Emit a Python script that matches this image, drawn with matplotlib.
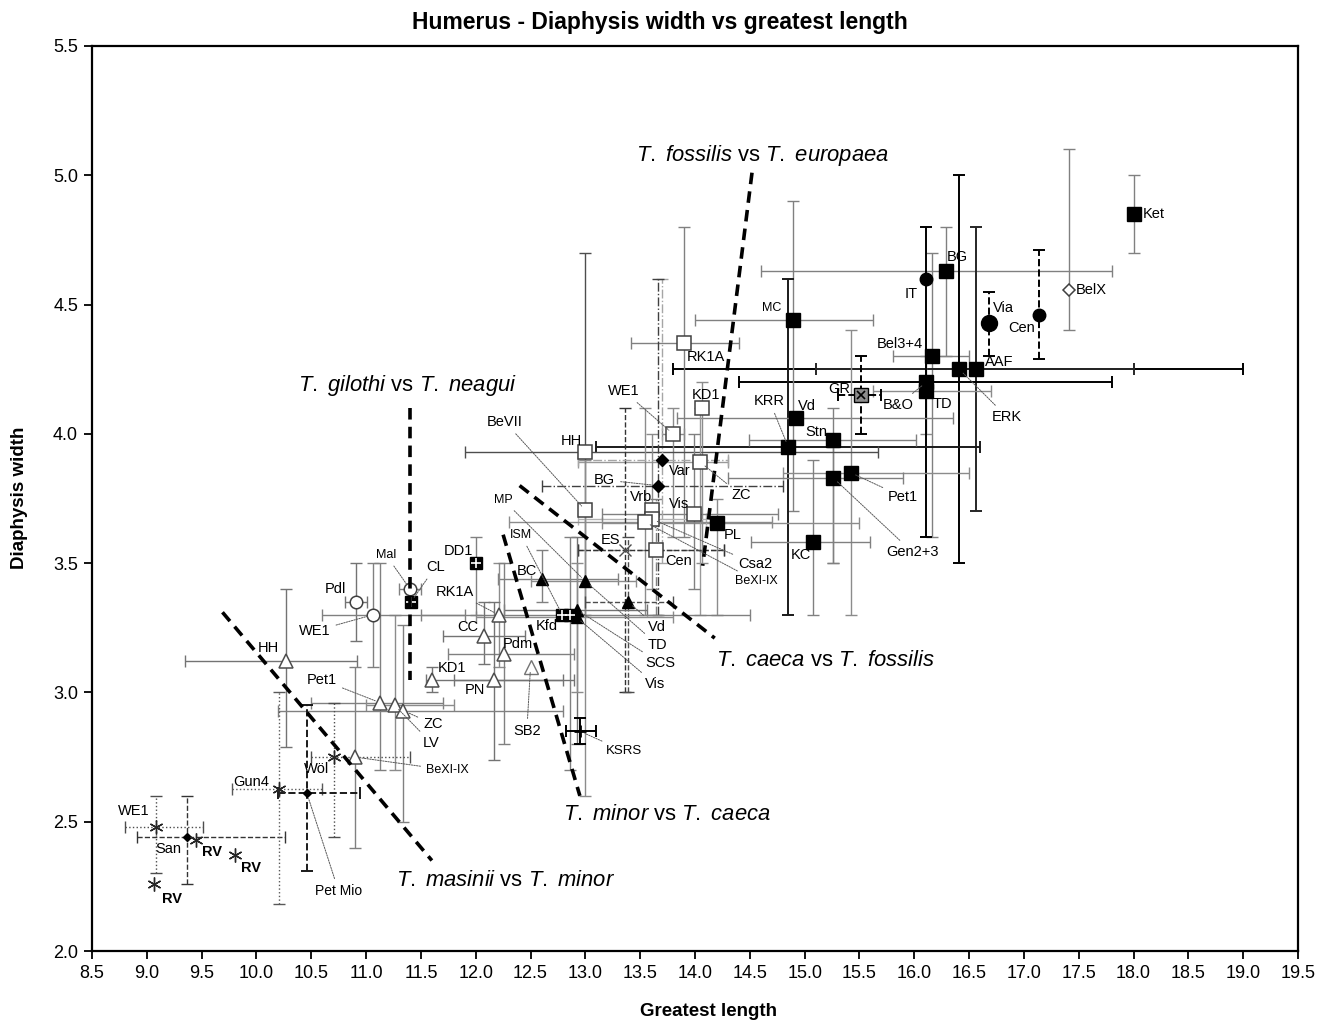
import matplotlib
matplotlib.use("Agg")
import matplotlib.pyplot as plt
from matplotlib.ticker import MultipleLocator, FormatStrFormatter

plt.rcParams['font.family'] = ['Liberation Sans', 'DejaVu Sans']
plt.rcParams['mathtext.fontset'] = 'custom'
plt.rcParams['mathtext.it'] = 'Liberation Sans:italic'
plt.rcParams['mathtext.rm'] = 'Liberation Sans'

W, H = 1319, 1021

# ---------------- data ----------------
names = ["Ket", "BG", "Bel3+4", "ERK", "AAF", "B&O", "TD", "IT", "Via", "Cen", "BelX",
         "MC", "KRR", "Vd", "Stn", "Pet1", "Gen2+3", "KC", "PL", "GR",
         "RK1A", "KD1", "WE1", "HH", "ZC", "BeVII", "Vrb", "Csa2", "BeXI-IX", "Vis", "Cen",
         "ES", "Var", "BG",
         "BC", "TD", "Vd", "SCS", "Vis", "Kfd", "ISM", "KSRS",
         "RK1A", "CC", "Pdm", "SB2", "PN", "KD1", "HH", "Pet1", "LV", "ZC", "BeXI-IX", "Wöl",
         "Pdl", "WE1", "Mal", "CL", "DD1",
         "WE1", "San", "RV", "RV", "RV", "Gun4", "Pet Mio"]
xs = [18.00, 16.29, 16.16, 16.41, 16.56, 16.11, 16.11, 16.11, 16.68, 17.14, 17.41,
      14.89, 14.85, 14.92, 15.26, 15.42, 15.26, 15.08, 14.20, 15.51,
      13.90, 14.06, 13.80, 13.00, 14.05, 13.00, 13.61, 13.61, 13.54, 13.99, 13.64,
      13.36, 13.70, 13.66,
      12.60, 13.00, 13.39, 12.92, 12.92, 12.86, 12.79, 12.95,
      12.21, 12.08, 12.26, 12.50, 12.17, 11.60, 10.27, 11.13, 11.26, 11.34, 10.90, 10.71,
      10.91, 11.06, 11.40, 11.41, 12.00,
      9.08, 9.37, 9.45, 9.80, 9.07, 10.21, 10.46]
ys = [4.85, 4.63, 4.30, 4.25, 4.25, 4.20, 4.165, 4.60, 4.43, 4.46, 4.555,
      4.44, 3.95, 4.06, 3.975, 3.85, 3.83, 3.58, 3.655, 4.15,
      4.35, 4.10, 4.00, 3.93, 3.89, 3.705, 3.705, 3.67, 3.66, 3.69, 3.55,
      3.55, 3.90, 3.80,
      3.44, 3.43, 3.35, 3.32, 3.29, 3.30, 3.30, 2.85,
      3.30, 3.22, 3.15, 3.10, 3.05, 3.05, 3.12, 2.96, 2.95, 2.93, 2.75, 2.75,
      3.35, 3.30, 3.40, 3.35, 3.50,
      2.48, 2.44, 2.43, 2.37, 2.26, 2.625, 2.61]
N = None
x_lo = [N, 14.60, 15.81, 13.80, 15.10, 14.40, 15.62, N, N, N, N,
        14.00, 13.10, 13.84, 14.49, 14.80, 14.30, 14.51, 13.15, 15.30,
        13.42, N, 13.70, 11.90, 12.93, N, N, 12.93, 12.30, 13.15, 12.93,
        12.93, 12.93, 12.60,
        12.20, 12.50, 13.00, 12.26, 12.00, 11.50, N, 12.82,
        N, 11.70, 11.75, N, 11.80, 11.55, 9.35, 10.50, 11.00, 10.20, N, 10.50,
        10.81, 10.60, 11.30, N, N,
        8.80, 8.91, N, N, N, 9.78, 10.20]
x_hi = [N, 17.80, 16.50, 19.00, 18.00, 17.80, 16.70, N, N, N, N,
        15.62, 16.60, 16.35, 16.02, 16.50, 15.90, 15.60, 15.50, 15.70,
        14.40, N, 13.90, 15.67, 14.30, N, N, 14.10, 14.70, 14.76, 14.26,
        14.26, 14.30, 14.80,
        13.30, 13.46, 13.80, 13.56, 13.80, 14.50, N, 13.10,
        N, 12.45, 12.90, N, 12.80, 12.90, 10.92, 11.70, 11.80, 12.80, N, 11.40,
        11.01, 11.90, 11.50, N, N,
        9.51, 10.26, N, N, N, 10.60, 10.94]
y_lo = [4.70, 4.30, 3.60, 3.50, 3.70, N, 4.00, 3.60, 4.30, 4.29, 4.40,
        3.70, 3.30, N, 3.50, 3.30, 3.50, 3.30, 3.30, 4.00,
        3.60, 3.50, 3.60, 3.30, 3.30, N, 3.40, N, 3.30, 3.40, 3.30,
        3.00, 3.50, 3.30,
        3.35, 2.60, 3.00, 2.80, 3.00, 2.70, N, 2.80,
        3.10, 3.11, 2.80, N, 2.74, 3.00, 2.79, 2.70, 2.70, 2.50, 2.40, 2.44,
        3.20, 3.10, N, N, 3.30,
        2.30, 2.26, N, N, N, 2.18, 2.31]
y_hi = [5.00, 4.80, 4.70, 5.00, 4.80, N, 4.30, 4.80, 4.55, 4.71, 5.10,
        4.90, 4.60, N, 4.10, 4.40, 3.95, 3.90, 3.75, 4.30,
        4.80, 4.20, 4.10, 4.70, 4.10, N, 4.00, N, 4.10, 4.00, 3.75,
        4.10, 4.60, 4.60,
        3.55, 3.90, 3.60, 3.60, 3.50, 3.60, N, 2.90,
        3.50, 3.35, 3.50, N, 3.35, 3.10, 3.40, 3.50, 3.30, 3.26, 3.10, 2.96,
        3.50, 3.50, N, N, 3.60,
        2.60, 2.60, N, N, N, 3.00, 2.95]

# marker kind of each point
kinds = ["sqf", "sqf", "sqf", "sqf", "sqf", "sqf", "sqf", "cif", "cib", "cif", "dio",
         "sqf", "sqf", "sqf", "sqf", "sqf", "sqf", "sqf", "sqf", "sqx",
         "sqo", "sqo", "sqo", "sqo", "sqo", "sqo", "sqo", "sqo", "sqo", "sqo", "sqo",
         "xx", "dif", "dif",
         "trf", "trf", "trf", "trf", "trf", "sqc", "sqc", "plus",
         "tro", "tro", "tro", "trl", "tro", "tro", "tro", "tro", "tro", "tro", "tro", "ast",
         "cio", "cio", "cio", "sqc", "sqc",
         "ast", "dis", "ast", "ast", "ast", "ast", "dis"]
# error bar colour / line style of each point
bar_col = ["0.5", "0.5", "0.5", "0.0", "0.15", "0.0", "0.55", "0.0", "0.0", "0.0", "0.5",
           "0.5", "0.1", "0.5", "0.5", "0.55", "0.5", "0.5", "0.55", "0.0",
           "0.5", "0.55", "0.55", "0.3", "0.6", "0.5", "0.55", "0.7", "0.55", "0.5", "0.5",
           "0.2", "0.65", "0.25",
           "0.5", "0.55", "0.3", "0.45", "0.55", "0.5", "0.5", "0.0",
           "0.55", "0.45", "0.5", "0.5", "0.45", "0.45", "0.45", "0.5", "0.55", "0.5", "0.5", "0.3",
           "0.45", "0.5", "0.5", "0.5", "0.5",
           "0.3", "0.2", "0.2", "0.2", "0.2", "0.35", "0.1"]
bar_ls = ["-", "-", "-", "-", "-", "-", "-", "-", "--", "--", "-",
          "-", "-", "-", "-", "-", "-", "-", "-", "--",
          "-", "-", "-", "-", "-", "-", "-", "-", "-", "-", "-.",
          "--", "-.", "-.",
          "-", "-", "--", "-", "-", "-", "-", "-",
          "-", "-", "-", "-", "-", "-", "-", "-", "-", "-", "-", ":",
          "-", "-", "-", "-", "-",
          ":", "--", "-", "-", "-", ":", "--"]

# boundary lines between species
bound_x = [[11.40, 11.40], [9.69, 11.60], [12.25, 12.95], [12.40, 14.18], [14.52, 14.07]]
bound_y = [[4.10, 3.05], [3.31, 2.35], [3.61, 2.60], [3.80, 3.21], [5.01, 3.49]]
bound_text = [r"$\mathit{T.\ gilothi}$ vs $\mathit{T.\ neagui}$",
              r"$\mathit{T.\ masinii}$ vs $\mathit{T.\ minor}$",
              r"$\mathit{T.\ minor}$ vs $\mathit{T.\ caeca}$",
              r"$\mathit{T.\ caeca}$ vs $\mathit{T.\ fossilis}$",
              r"$\mathit{T.\ fossilis}$ vs $\mathit{T.\ europaea}$"]
bound_text_pos = [(298, 385), (396, 880), (563, 814), (716, 660), (636, 155)]

# point labels: (point index, text pixel pos, leader?, size, bold)
labels = [
    (0, (1143, 214), False, 10.5, False),
    (1, (947, 257), False, 10.5, False),
    (2, (877, 344), False, 10.5, False),
    (3, (992, 417), True, 10.5, False),
    (4, (985, 362), False, 10.5, False),
    (5, (883, 405), True, 10.5, False),
    (6, (933, 404), False, 10.5, False),
    (7, (905, 294), False, 10.5, False),
    (8, (993, 308), False, 10.5, False),
    (9, (1008, 328), False, 10.5, False),
    (10, (1076, 290), False, 10.5, False),
    (11, (762, 308), False, 9, False),
    (12, (754, 401), True, 10.5, False),
    (13, (798, 406), False, 10.5, False),
    (14, (805, 432), False, 10.5, False),
    (15, (888, 497), True, 10.5, False),
    (16, (886, 552), True, 10.5, False),
    (17, (791, 555), False, 10.5, False),
    (18, (724, 535), False, 10.5, False),
    (19, (828, 389), False, 10.5, False),
    (20, (687, 357), False, 10.5, False),
    (21, (692, 395), False, 10.5, False),
    (22, (608, 391), True, 10.5, False),
    (23, (561, 441), False, 10.5, False),
    (24, (731, 495), True, 10.5, False),
    (25, (487, 422), True, 10.5, False),
    (26, (630, 497), False, 10.5, False),
    (27, (738, 564), True, 10.5, False),
    (28, (735, 581), True, 9, False),
    (29, (669, 504), False, 10.5, False),
    (30, (665, 561), False, 10.5, False),
    (31, (601, 540), False, 10.5, False),
    (32, (669, 471), False, 10.5, False),
    (33, (594, 480), True, 10.5, False),
    (34, (517, 571), False, 10.5, False),
    (35, (648, 645), True, 10.5, False),
    (36, (648, 627), True, 10.5, False),
    (37, (645, 663), True, 10.5, False),
    (38, (645, 684), True, 10.5, False),
    (39, (536, 626), False, 10.5, False),
    (40, (510, 535), True, 9, False),
    (41, (606, 751), True, 9.5, False),
    (42, (436, 592), True, 10.5, False),
    (43, (457, 627), False, 10.5, False),
    (44, (503, 644), False, 10.5, False),
    (45, (513, 731), True, 10.5, False),
    (46, (465, 690), False, 10.5, False),
    (47, (438, 668), False, 10.5, False),
    (48, (258, 648), False, 10.5, False),
    (49, (307, 680), True, 10.5, False),
    (50, (423, 743), True, 10.5, False),
    (51, (423, 724), True, 10.5, False),
    (52, (426, 770), True, 9, False),
    (53, (304, 769), False, 10.5, False),
    (54, (325, 589), False, 10.5, False),
    (55, (299, 631), True, 10.5, False),
    (56, (376, 555), True, 9, False),
    (57, (426, 567), True, 10.5, False),
    (58, (444, 551), False, 10.5, False),
    (59, (118, 811), False, 10.5, False),
    (60, (155, 849), False, 10.5, False),
    (61, (202, 852), False, 10.5, True),
    (62, (241, 868), False, 10.5, True),
    (63, (162, 899), False, 10.5, True),
    (64, (233, 782), False, 10.5, False),
    (65, (315, 891), True, 10, False),
]
# extra label with only a leader (MP)
extra_label = ("MP", (494, 500), 35, 9)

# ---------------- figure ----------------
fig = plt.figure(figsize=(W / 100, H / 100), dpi=100)
ax = fig.add_axes([92 / W, 1 - 951 / H, (1298 - 92) / W, (951 - 46) / H])
ax.set_xlim(8.5, 19.5)
ax.set_ylim(2.0, 5.5)

# error bars
for i in range(len(xs)):
    xe = None if x_lo[i] is None else [[xs[i] - x_lo[i]], [x_hi[i] - xs[i]]]
    ye = None if y_lo[i] is None else [[ys[i] - y_lo[i]], [y_hi[i] - ys[i]]]
    if xe is None and ye is None:
        continue
    lw = 1.4 if float(bar_col[i]) < 0.2 else 1.0
    eb = ax.errorbar(xs[i], ys[i], xerr=xe, yerr=ye, fmt='none', ecolor=bar_col[i],
                     elinewidth=lw, capsize=4, capthick=lw, zorder=2)
    for lc in eb[2]:
        lc.set_linestyle(bar_ls[i])

# markers
for i in range(len(xs)):
    k = kinds[i]
    x, y = xs[i], ys[i]
    z = 5
    if k == "sqf":
        ax.plot(x, y, 's', ms=9.5, mfc='black', mec='black', zorder=z)
    elif k == "sqo":
        ax.plot(x, y, 's', ms=10, mfc='white', mec='0.25', mew=1.1, zorder=z)
    elif k == "sqx":
        ax.plot(x, y, 's', ms=9.5, mfc='0.55', mec='black', mew=1, zorder=z)
        ax.plot(x, y, 'x', ms=6, mec='black', mew=1.2, zorder=z + 1)
    elif k == "sqc":
        ax.plot(x, y, 's', ms=8, mfc='black', mec='black', zorder=z)
        ax.plot(x, y, '+', ms=7, mec='white', mew=1.2, zorder=z + 1)
    elif k == "cif":
        ax.plot(x, y, 'o', ms=9, mfc='black', mec='black', zorder=z)
    elif k == "cib":
        ax.plot(x, y, 'o', ms=11.5, mfc='black', mec='black', zorder=z)
    elif k == "cio":
        ax.plot(x, y, 'o', ms=9, mfc='white', mec='0.25', mew=1.1, zorder=z)
    elif k == "dio":
        ax.plot(x, y, 'D', ms=6.5, mfc='white', mec='0.25', mew=1.1, zorder=z)
    elif k == "dif":
        ax.plot(x, y, 'D', ms=6.5, mfc='black', mec='black', zorder=z)
    elif k == "dis":
        ax.plot(x, y, 'D', ms=4.5, mfc='black', mec='black', zorder=z)
    elif k == "trf":
        ax.plot(x, y, '^', ms=9, mfc='black', mec='black', zorder=z)
    elif k == "tro":
        ax.plot(x, y, '^', ms=9.5, mfc='white', mec='0.3', mew=1.1, zorder=z)
    elif k == "trl":
        ax.plot(x, y, '^', ms=9.5, mfc='white', mec='0.45', mew=1.0, zorder=z)
    elif k == "ast":
        ax.plot(x, y, marker=(6, 2, 0), ms=10, mec='0.15', mew=1.0, ls='none', zorder=z)
    elif k == "xx":
        ax.plot(x, y, 'x', ms=8, mec='0.3', mew=1.0, zorder=z)
    elif k == "plus":
        ax.plot(x, y, '+', ms=8, mec='black', mew=2, zorder=z)

# boundary lines
for bx, by in zip(bound_x, bound_y):
    ax.plot(bx, by, color='black', lw=2.6, ls=(0, (3.2, 2.0)), zorder=6)
for t, (px, py) in zip(bound_text, bound_text_pos):
    fig.text(px / W, 1 - py / H, t, fontsize=15.8, ha='left', va='center', color='black')

# point labels
lead = dict(arrowstyle='-', color='0.35', lw=0.7, ls=(0, (1.5, 1.2)),
            shrinkA=2, shrinkB=4)
for idx, (px, py), has_leader, fs, bold in labels:
    kw = dict(fontsize=fs, fontweight='bold' if bold else 'normal', ha='left',
              va='center', zorder=8)
    if has_leader:
        ax.annotate(names[idx], xy=(xs[idx], ys[idx]), xytext=(px, H - py),
                    textcoords='figure pixels', arrowprops=lead, **kw)
    else:
        ax.annotate(names[idx], xy=(px, H - py), xycoords='figure pixels', **kw)
t, (px, py), idx, fs = extra_label
ax.annotate(t, xy=(xs[idx], ys[idx]), xytext=(px, H - py), textcoords='figure pixels',
            arrowprops=lead, fontsize=fs, ha='left', va='center', zorder=8)

# axes styling
ax.xaxis.set_major_locator(MultipleLocator(0.5))
ax.yaxis.set_major_locator(MultipleLocator(0.5))
ax.xaxis.set_major_formatter(FormatStrFormatter('%.1f'))
ax.yaxis.set_major_formatter(FormatStrFormatter('%.1f'))
ax.tick_params(axis='both', which='major', direction='out', length=6, width=1.3,
               labelsize=13, pad=4)
for s in ax.spines.values():
    s.set_linewidth(1.6)
    s.set_color('black')

fig.text(0.5, 1 - 23 / H, "Humerus - Diaphysis width vs greatest length",
         fontsize=16.5, fontweight='bold', ha='center', va='center')
fig.text(709 / W, 1 - 1011 / H, "Greatest length", fontsize=13.5, fontweight='bold',
         ha='center', va='center')
fig.text(20 / W, 1 - 498 / H, "Diaphysis width", fontsize=13.5, fontweight='bold',
         ha='center', va='center', rotation=90)

fig.savefig("out.png", dpi=100)
